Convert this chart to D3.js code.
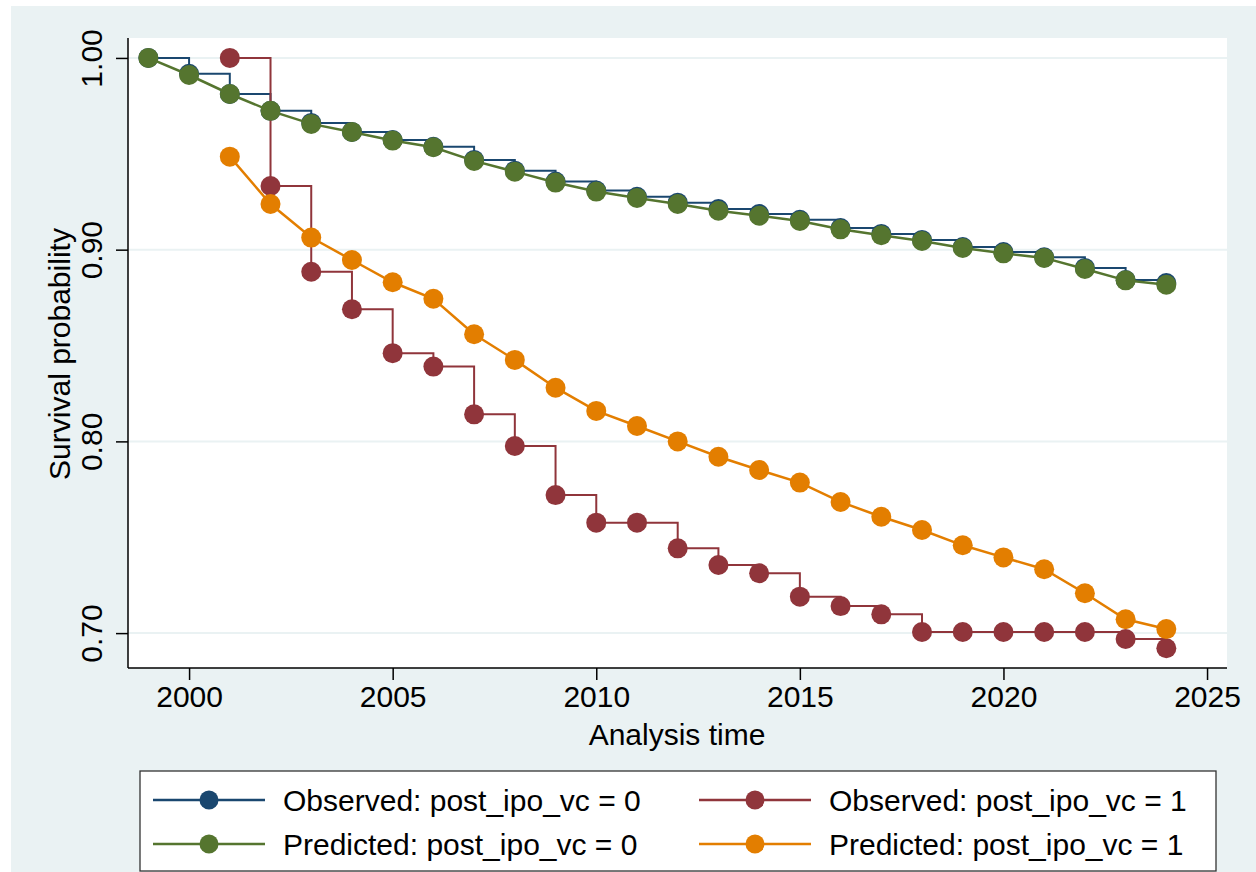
<!DOCTYPE html>
<html>
<head>
<meta charset="utf-8">
<script src="https://cdn.jsdelivr.net/npm/d3@7"></script>
<style>
  body { margin: 0; background: #fff; }
  text { font-family: "Liberation Sans", Arial, sans-serif; fill: #000; }
</style>
</head>
<body>
<div id="chart"></div>
<script>
// survival curves, one value per year
var yearsAll = d3.range(1999, 2025);
var yearsVc = d3.range(2001, 2025);

var obs0 = [1.000, .9917, .9812, .9724, .9661, .9614, .9572, .9537, .9468, .9412, .9355, .9308, .9276,
            .9245, .9212, .9186, .9156, .9113, .9082, .9051, .9014, .8988, .8960, .8905, .8842, .8826];
var pred0 = [1.000, .9911, .9812, .9724, .9656, .9614, .9569, .9534, .9463, .9407, .9350, .9303, .9270,
             .9238, .9203, .9177, .9150, .9106, .9075, .9045, .9009, .8981, .8957, .8899, .8840, .8817];
var obs1 = [1.000, .9332, .8885, .8689, .8460, .8390, .8141, .7976, .7720, .7576, .7576, .7442,
            .7355, .7312, .7190, .7141, .7098, .7006, .7006, .7006, .7006, .7006, .6969, .6921];
var pred1 = [.9485, .9238, .9063, .8946, .8830, .8744, .8559, .8425, .8280, .8159, .8080, .8000,
             .7920, .7851, .7785, .7684, .7607, .7538, .7458, .7395, .7333, .7208, .7072, .7021];

var xTicks = [2000, 2005, 2010, 2015, 2020, 2025];
var yTicks = [0.70, 0.80, 0.90, 1.00];
var legendLabels = ['Observed: post_ipo_vc = 0', 'Observed: post_ipo_vc = 1',
                    'Predicted: post_ipo_vc = 0', 'Predicted: post_ipo_vc = 1'];

var navy = '#1a476f', maroon = '#90353b', green = '#55752f', orange = '#e37e00';
var bg = '#eaf2f3';

var width = 1256, height = 872;
var svg = d3.select('#chart').append('svg').attr('width', width).attr('height', height);

svg.append('rect').attr('x', 11).attr('y', 6).attr('width', width - 11).attr('height', height - 6).attr('fill', bg);

var x = d3.scaleLinear().domain([1998.5, 2025.49]).range([128, 1227]);
var y = d3.scaleLinear().domain([0.6818, 1.0104]).range([668, 38]);

svg.append('rect').attr('x', 128).attr('y', 38).attr('width', 1099).attr('height', 630).attr('fill', '#fff');

// gridlines
svg.selectAll('.grid').data(yTicks).enter().append('line')
  .attr('x1', 128).attr('x2', 1227)
  .attr('y1', d => y(d)).attr('y2', d => y(d))
  .attr('stroke', bg).attr('stroke-width', 2);

// axes
var xAxis = svg.append('g').attr('transform', 'translate(0,668)')
  .call(d3.axisBottom(x).tickValues(xTicks).tickFormat(d3.format('d')).tickSize(12).tickPadding(6));
var yAxis = svg.append('g').attr('transform', 'translate(128,0)')
  .call(d3.axisLeft(y).tickValues(yTicks).tickFormat(d3.format('.2f')).tickSize(12));
[xAxis, yAxis].forEach(a => {
  a.select('.domain').attr('stroke', '#000').attr('stroke-width', 1.5);
  a.selectAll('.tick line').attr('stroke', '#000').attr('stroke-width', 1.5);
  a.selectAll('text').attr('font-size', 30).attr('font-family', '"Liberation Sans", Arial, sans-serif').attr('fill', '#000');
});
xAxis.select('.domain').attr('d', 'M128,0H1227');
yAxis.select('.domain').attr('d', 'M0,668V38');
yAxis.selectAll('.tick text')
  .attr('text-anchor', 'middle').attr('x', null).attr('dy', null)
  .attr('transform', 'translate(-26,0) rotate(-90)');

svg.append('text').attr('x', 677).attr('y', 745).attr('text-anchor', 'middle').attr('font-size', 30)
  .text('Analysis time');
svg.append('text').attr('transform', 'translate(70,354) rotate(-90)').attr('text-anchor', 'middle').attr('font-size', 30)
  .text('Survival probability');

var step = d3.line().x(d => x(d[0])).y(d => y(d[1])).curve(d3.curveStepAfter);
var straight = d3.line().x(d => x(d[0])).y(d => y(d[1]));

var series = [
  {years: yearsAll, vals: obs0, color: navy, line: step, w: 2},
  {years: yearsVc, vals: obs1, color: maroon, line: step, w: 2},
  {years: yearsAll, vals: pred0, color: green, line: straight, w: 2.5},
  {years: yearsVc, vals: pred1, color: orange, line: straight, w: 2.5}
];

series.forEach(s => {
  var pts = s.years.map((yr, i) => [yr, s.vals[i]]);
  var g = svg.append('g');
  g.append('path').attr('d', s.line(pts)).attr('fill', 'none').attr('stroke', s.color).attr('stroke-width', s.w);
  g.selectAll('circle').data(pts).enter().append('circle')
    .attr('cx', d => x(d[0])).attr('cy', d => y(d[1])).attr('r', 10).attr('fill', s.color);
});

// legend
var leg = svg.append('g');
leg.append('rect').attr('x', 140).attr('y', 771).attr('width', 1076).attr('height', 100)
  .attr('fill', '#fff').attr('stroke', '#333').attr('stroke-width', 1.3);
var legItems = [
  {label: legendLabels[0], color: navy, col: 0, row: 0},
  {label: legendLabels[1], color: maroon, col: 1, row: 0},
  {label: legendLabels[2], color: green, col: 0, row: 1},
  {label: legendLabels[3], color: orange, col: 1, row: 1}
];
var colX = [153, 699], rowY = [800, 844];
legItems.forEach(it => {
  var lx = colX[it.col], ly = rowY[it.row];
  leg.append('line').attr('x1', lx).attr('x2', lx + 112).attr('y1', ly).attr('y2', ly)
    .attr('stroke', it.color).attr('stroke-width', 2.5);
  leg.append('circle').attr('cx', lx + 56).attr('cy', ly).attr('r', 9.5).attr('fill', it.color);
  leg.append('text').attr('x', lx + 130).attr('y', ly + 11).attr('font-size', 30).text(it.label);
});
</script>
</body>
</html>
